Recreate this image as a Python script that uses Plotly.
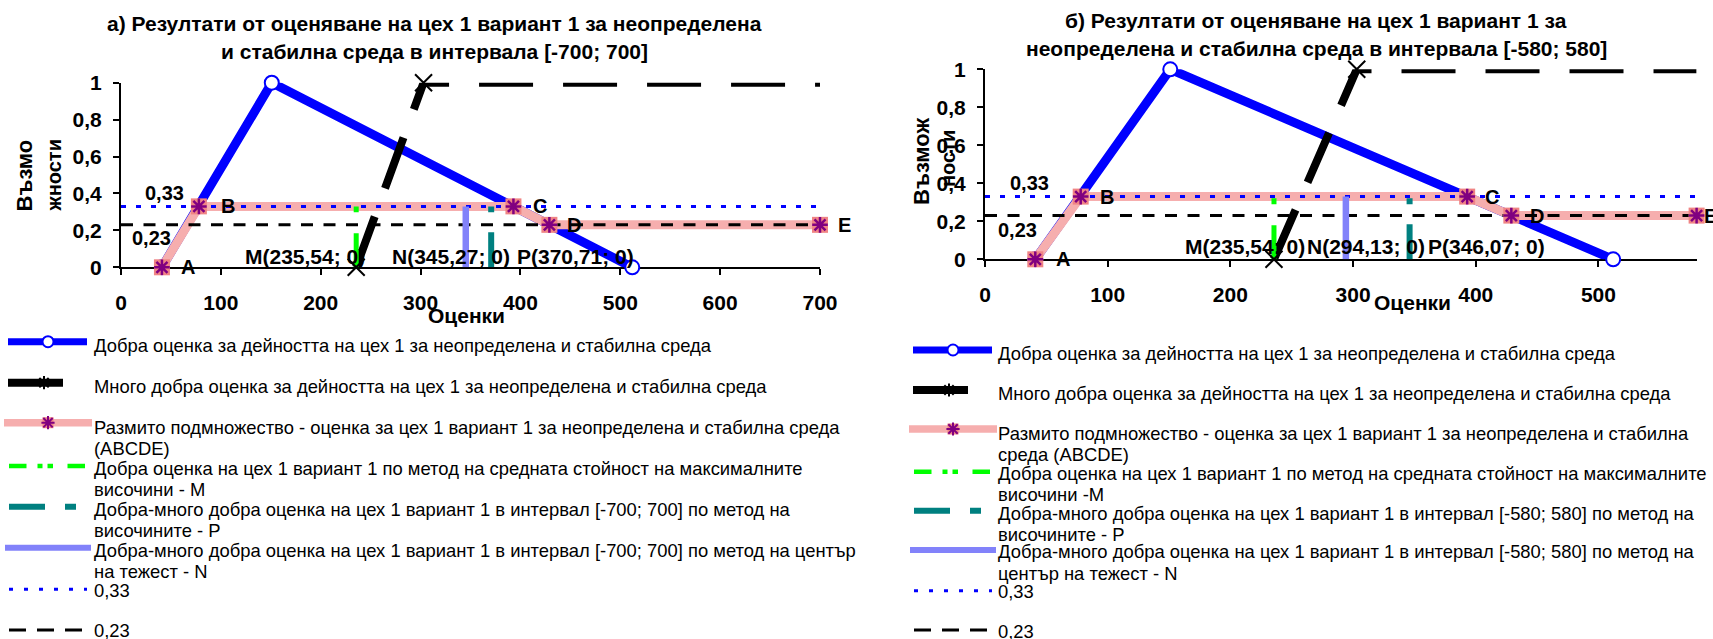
import plotly.graph_objects as go

W, H = 1713, 639
FONT = "Liberation Sans"

# ---------------------------------------------------------------- data
# Добра оценка (triangular membership function)
good_x = [41, 151, 512]
good_y = [0, 1, 0]

# Много добра оценка
very_good_x_a = [235.54, 303, 700]
very_good_x_b = [235.54, 303, 580]
very_good_y = [0, 1, 1]

# Размито подмножество ABCDE
fuzzy_names = ["A", "B", "C", "D", "E"]
fuzzy_x_a = [41, 78, 393, 429, 700]
fuzzy_x_b = [41, 78, 393, 429, 580]
fuzzy_y = [0, 0.33, 0.33, 0.23, 0.23]

# cut levels
level_hi = 0.33
level_lo = 0.23

# defuzzified estimates: M (mean of maxima), N (centre of gravity), P (heights)
m_a, n_a, p_a = 235.54, 345.27, 370.71
m_b, n_b, p_b = 235.54, 294.13, 346.07

x_max_a, x_max_b = 700, 580
x_ticks_a = [0, 100, 200, 300, 400, 500, 600, 700]
x_ticks_b = [0, 100, 200, 300, 400, 500]
y_ticks = [0, 0.2, 0.4, 0.6, 0.8, 1]

title_a = ["а) Резултати от оценяване на цех 1 вариант 1 за неопределена",
           "и стабилна среда в интервала [-700; 700]"]
title_b = ["б) Резултати от оценяване на цех 1 вариант 1 за",
           "неопределена и стабилна среда в интервала [-580; 580]"]

legend_a = [
    ["Добра оценка за дейността на цех 1 за неопределена и стабилна среда"],
    ["Много добра оценка за дейността на цех 1 за неопределена и стабилна среда"],
    ["Размито подмножество - оценка за цех 1 вариант 1 за неопределена и стабилна среда",
     "(ABCDE)"],
    ["Добра оценка на цех 1 вариант 1 по метод на средната стойност на максималните",
     "височини - M"],
    ["Добра-много добра оценка на цех 1 вариант 1 в интервал [-700; 700] по метод на",
     "височините - P"],
    ["Добра-много добра оценка на цех 1 вариант 1 в интервал [-700; 700] по метод на център",
     "на тежест - N"],
    ["0,33"],
    ["0,23"],
]
legend_b = [
    ["Добра оценка за дейността на цех 1 за неопределена и стабилна среда"],
    ["Много добра оценка за дейността на цех 1 за неопределена и стабилна среда"],
    ["Размито подмножество - оценка за цех 1 вариант 1 за неопределена и стабилна",
     "среда (ABCDE)"],
    ["Добра оценка на цех 1 вариант 1 по метод на средната стойност на максималните",
     "височини -M"],
    ["Добра-много добра оценка на цех 1 вариант 1 в интервал [-580; 580] по метод на",
     "височините - P"],
    ["Добра-много добра оценка на цех 1 вариант 1 в интервал [-580; 580] по метод на",
     "център на тежест - N"],
    ["0,33"],
    ["0,23"],
]

# ---------------------------------------------------------------- styles
BLUE = "#0000FF"
PINK = "#F6AEAE"
SALMON = "#F08484"
PURPLE = "#800080"
GREEN = "#00FF00"
TEAL = "#008080"
PERI = "#8282FA"

fig = go.Figure()
annotations = []


def fmt(v):
    return f"{v:.2f}".replace(".", ",")


def add_panel(xa, ya, fx, vx, xmax, m, n, p, shifts):
    common = dict(xaxis=xa, yaxis=ya, cliponaxis=False, showlegend=False,
                  hoverinfo="skip")
    # Добра оценка
    fig.add_trace(go.Scatter(
        x=good_x, y=good_y, mode="lines+markers",
        line=dict(color=BLUE, width=9),
        marker=dict(symbol="circle", size=14, color="white",
                    line=dict(color=BLUE, width=2)), **common))
    # Размито подмножество (line)
    fig.add_trace(go.Scatter(x=fx, y=fuzzy_y, mode="lines",
                             line=dict(color=PINK, width=9), **common))
    # Много добра оценка
    fig.add_trace(go.Scatter(x=vx, y=very_good_y, mode="lines",
                             line=dict(color="black", width=8, dash="54px,30px"),
                             **common))
    # cut levels
    fig.add_trace(go.Scatter(x=[0, xmax], y=[level_hi, level_hi], mode="lines",
                             line=dict(color=BLUE, width=3, dash="5px,10px"),
                             **common))
    fig.add_trace(go.Scatter(x=[0, xmax], y=[level_lo, level_lo], mode="lines",
                             line=dict(color="black", width=3, dash="12px,10.5px"),
                             **common))
    # M, P, N verticals
    fig.add_trace(go.Scatter(x=[m, m], y=[0, level_hi], mode="lines",
                             line=dict(color=GREEN, width=5,
                                       dash="34px,21px,6px,20px"), **common))
    fig.add_trace(go.Scatter(x=[p, p], y=[0, level_hi], mode="lines",
                             line=dict(color=TEAL, width=6,
                                       dash="35px,20px,6px,20px"), **common))
    fig.add_trace(go.Scatter(x=[n, n], y=[0, level_hi], mode="lines",
                             line=dict(color=PERI, width=6.5), **common))
    # fuzzy set markers
    fig.add_trace(go.Scatter(x=fx, y=fuzzy_y, mode="markers",
                             marker=dict(symbol="square", size=16, color=SALMON),
                             **common))
    fig.add_trace(go.Scatter(x=fx, y=fuzzy_y, mode="markers",
                             marker=dict(symbol="asterisk-open", size=13,
                                         color=PURPLE,
                                         line=dict(color=PURPLE, width=2.5)),
                             **common))
    # very good markers
    fig.add_trace(go.Scatter(x=vx[:2], y=very_good_y[:2], mode="markers",
                             marker=dict(symbol="x-thin-open", size=17,
                                         color="black",
                                         line=dict(color="black", width=2)),
                             **common))

    lab = dict(xref=xa, yref=ya, showarrow=False,
               font=dict(family=FONT, size=20, color="black", weight="bold"))
    for name, x, y, dx in zip(fuzzy_names, fx, fuzzy_y, shifts["abc"]):
        annotations.append(dict(x=x, y=y, text=name, xshift=dx, yshift=0, **lab))
    annotations.append(dict(x=fx[0], y=level_hi, text="0,33",
                            xshift=shifts["hi"][0], yshift=shifts["hi"][1], **lab))
    annotations.append(dict(x=fx[0], y=level_lo, text="0,23",
                            xshift=shifts["lo"][0], yshift=shifts["lo"][1], **lab))
    lab2 = dict(lab)
    lab2["font"] = dict(family=FONT, size=21, color="black", weight="bold")
    for code, v, dx in zip("MNP", [m, n, p], shifts["mnp"]):
        annotations.append(dict(x=v, y=0, text=f"{code}({fmt(v)}; 0)",
                                xshift=dx, yshift=shifts["mnp_y"], **lab2))


add_panel("x", "y", fuzzy_x_a, very_good_x_a, x_max_a, m_a, n_a, p_a,
          dict(abc=[26, 29, 27, 25, 24], hi=(3, 13), lo=(-10, -13),
               mnp=[-51, -15, 84], mnp_y=11))
add_panel("x2", "y2", fuzzy_x_b, very_good_x_b, x_max_b, m_b, n_b, p_b,
          dict(abc=[28, 26, 25, 26, 14], hi=(-6, 14), lo=(-18, -14),
               mnp=[-29, 20, 77], mnp_y=13))

# ---------------------------------------------------------------- legends
# keys are drawn on a pixel overlay axis (x3/y3)


def key_line(x0, x1, y, color, width, dash="solid"):
    fig.add_trace(go.Scatter(x=[x0, x1], y=[y, y], mode="lines",
                             line=dict(color=color, width=width, dash=dash),
                             xaxis="x3", yaxis="y3", showlegend=False,
                             hoverinfo="skip", cliponaxis=False))


def key_marker(x, y, **marker):
    fig.add_trace(go.Scatter(x=[x], y=[y], mode="markers", marker=marker,
                             xaxis="x3", yaxis="y3", showlegend=False,
                             hoverinfo="skip", cliponaxis=False))


def draw_legend(dx, key_y, text_x, text_y, texts):
    key_line(8 + dx, 87 + dx, key_y[0], BLUE, 7)
    key_marker(48 + dx, key_y[0], symbol="circle", size=11, color="white",
               line=dict(color=BLUE, width=2))
    key_line(8 + dx, 63 + dx, key_y[1], "black", 8)
    key_marker(44 + dx, key_y[1], symbol="asterisk-open", size=11,
               color="black", line=dict(color="black", width=2))
    key_line(4 + dx, 92 + dx, key_y[2], PINK, 7.5)
    key_marker(48 + dx, key_y[2], symbol="square", size=11, color=SALMON)
    key_marker(48 + dx, key_y[2], symbol="asterisk-open", size=11,
               color=PURPLE, line=dict(color=PURPLE, width=2))
    key_line(9 + dx, 87 + dx, key_y[3], GREEN, 4.5,
             "17.5px,11px,5px,5px,5.5px,14.5px")
    key_line(9 + dx, 77 + dx, key_y[4], TEAL, 6, "36px,20px,11px,20px")
    key_line(5 + dx, 91 + dx, key_y[5], PERI, 6)
    key_line(9 + dx, 87 + dx, key_y[6], BLUE, 3, "4px,11px")
    key_line(9 + dx, 83 + dx, key_y[7], "black", 3, "17px,11px")
    for lines, y0 in zip(texts, text_y):
        for i, t in enumerate(lines):
            annotations.append(dict(
                x=text_x, y=y0 + i * 21.5, xref="x3", yref="y3", text=t,
                showarrow=False, xanchor="left", yanchor="middle",
                font=dict(family=FONT, size=18.4, color="black")))


draw_legend(0, [341.7, 382.7, 422.7, 466, 506.7, 547.7, 589.3, 630], 92,
            [345, 386, 427.3, 468.3, 509.3, 550, 590, 630.7], legend_a)
draw_legend(905, [350, 390, 429, 471.7, 510.7, 550, 590.7, 630], 996,
            [353, 393, 433, 473.3, 513.3, 551.7, 591.7, 631.7], legend_b)

# ---------------------------------------------------------------- titles
bold21 = dict(family=FONT, size=21, color="black", weight="bold")
for t, y in zip(title_a, [23.3, 51.7]):
    annotations.append(dict(x=434, y=y, xref="x3", yref="y3", text=t,
                            showarrow=False, font=bold21))
for t, y in zip(title_b, [20, 48.3]):
    annotations.append(dict(x=1316, y=y, xref="x3", yref="y3", text=t,
                            showarrow=False, font=bold21))
annotations.append(dict(x=466, y=315, xref="x3", yref="y3", text="Оценки",
                        showarrow=False, font=bold21))
annotations.append(dict(x=1412, y=302, xref="x3", yref="y3", text="Оценки",
                        showarrow=False, font=bold21))
# vertical axis titles
annotations.append(dict(x=23.5, y=176, xref="x3", yref="y3", text="Възмо",
                        textangle=-90, showarrow=False,
                        font=dict(family=FONT, size=22, color="black", weight="bold")))
annotations.append(dict(x=53.5, y=176, xref="x3", yref="y3", text="жности",
                        textangle=-90, showarrow=False,
                        font=dict(family=FONT, size=20, color="black", weight="bold")))
annotations.append(dict(x=921, y=162, xref="x3", yref="y3", text="Възмож",
                        textangle=-90, showarrow=False,
                        font=dict(family=FONT, size=22, color="black", weight="bold")))
annotations.append(dict(x=948, y=159, xref="x3", yref="y3", text="ности",
                        textangle=-90, showarrow=False,
                        font=dict(family=FONT, size=20, color="black", weight="bold")))

# ---------------------------------------------------------------- axes
tickfont = dict(family=FONT, size=21, color="black", weight="bold")


def px_dom(a, b, total):
    return [a / total, b / total]


def ydom(top, bottom):
    return [(H - bottom) / H, (H - top) / H]


base_x = dict(showgrid=False, zeroline=False, showline=True, linecolor="black",
              linewidth=2, ticks="outside", ticklen=6, tickwidth=2,
              tickcolor="black", tickfont=tickfont, layer="below traces",
              ticklabelstandoff=9, fixedrange=True, automargin=False)
base_y = dict(base_x, ticklabelstandoff=7)
inner = dict(showgrid=False, zeroline=False, showline=False, ticks="inside",
             ticklen=6, tickwidth=2, tickcolor="black", showticklabels=False,
             layer="below traces", fixedrange=True, automargin=False)

fig.update_layout(
    width=W, height=H,
    autosize=False,
    margin=dict(l=0, r=0, t=0, b=0, pad=0, autoexpand=False),
    paper_bgcolor="white", plot_bgcolor="rgba(0,0,0,0)",
    separators=", ",
    showlegend=False,
    annotations=annotations,
    xaxis=dict(base_x, domain=px_dom(121, 820, W), range=[0, x_max_a],
               tickvals=x_ticks_a, anchor="y"),
    yaxis=dict(base_y, domain=ydom(82.7, 267.3), range=[0, 1],
               tickvals=y_ticks, anchor="x"),
    xaxis2=dict(base_x, domain=px_dom(985, 1696.6, W), range=[0, x_max_b],
                tickvals=x_ticks_b, anchor="y2"),
    yaxis2=dict(base_y, domain=ydom(69.3, 259.3), range=[0, 1],
                tickvals=y_ticks, anchor="x2"),
    xaxis3=dict(domain=[0, 1], range=[0, W], visible=False, anchor="y3",
                fixedrange=True, automargin=False),
    yaxis3=dict(domain=[0, 1], range=[H, 0], visible=False, anchor="x3",
                fixedrange=True, automargin=False),
    # inward halves of the crossing tick marks
    xaxis4=dict(inner, overlaying="x", anchor="y", range=[0, x_max_a],
                tickvals=x_ticks_a, side="bottom"),
    yaxis4=dict(inner, overlaying="y", anchor="x", range=[0, 1],
                tickvals=y_ticks, side="left"),
    xaxis5=dict(inner, overlaying="x2", anchor="y2", range=[0, x_max_b],
                tickvals=x_ticks_b, side="bottom"),
    yaxis5=dict(inner, overlaying="y2", anchor="x2", range=[0, 1],
                tickvals=y_ticks, side="left"),
)

# the page body keeps no default margin, so the figure fills the window
fig.write_html("out.html", post_script="document.body.style.margin='0';")
